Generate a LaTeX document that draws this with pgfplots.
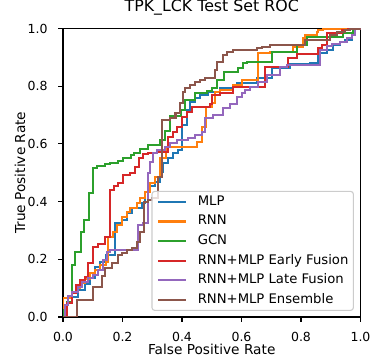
\documentclass[border=0pt]{standalone}
\usepackage{pgfplots}
\pgfplotsset{compat=1.18}
\usepackage{fontspec}
\setmainfont{DejaVu Sans}
\definecolor{c0}{HTML}{1F77B4}
\definecolor{c1}{HTML}{FF7F0E}
\definecolor{c2}{HTML}{2CA02C}
\definecolor{c3}{HTML}{D62728}
\definecolor{c4}{HTML}{9467BD}
\definecolor{c5}{HTML}{8C564B}
\definecolor{legedge}{RGB}{204,204,204}
\begin{document}
\begin{tikzpicture}
\path[use as bounding box] (0,0) rectangle (375bp,364bp);
\begin{axis}[
  at={(63bp,47bp)}, anchor=south west,
  scale only axis, width=297.5bp, height=288.5bp,
  xmin=0, xmax=1, ymin=0, ymax=1,
  axis line style={line width=1.1bp},
  tick pos=left, tick align=outside,
  major tick length=4.9bp,
  every tick/.style={black, line width=1.1bp},
  xtick={0,0.2,0.4,0.6,0.8,1.0},
  ytick={0,0.2,0.4,0.6,0.8,1.0},
  /pgf/number format/assume math mode=true,
  /pgf/number format/.cd, fixed, fixed zerofill, precision=1, /pgfplots/.cd,
  ticklabel style={font=\fontsize{12.5bp}{15bp}\selectfont},
  xticklabel style={anchor=base, yshift=-20bp, inner sep=0pt},
  yticklabel style={anchor=east, xshift=-10.3bp, inner sep=0pt},
  title={TPK\_LCK Test Set ROC},
  title style={at={(axis description cs:0.5,1.0388)}, anchor=base, inner sep=0pt, font=\fontsize{15.8bp}{19bp}\selectfont},
  xlabel={False Positive Rate},
  ylabel={True Positive Rate},
  xlabel style={at={(axis description cs:0.5,-0.1317)}, anchor=base, inner sep=0pt, font=\fontsize{13.7bp}{16bp}\selectfont},
  ylabel style={at={(axis description cs:-0.1277,0.5)}, anchor=base, rotate=0, inner sep=0pt, font=\fontsize{13.7bp}{16bp}\selectfont},
  legend cell align=left,
  legend image code/.code={\draw[#1] (0bp,0bp) -- (28bp,0bp);},
  legend style={
    at={(axis description cs:0.978,0.021)}, anchor=south east,
    draw=legedge, line width=1.1bp, rounded corners=2.8bp,
    fill=white, fill opacity=0.8, text opacity=1,
    font=\fontsize{13.2bp}{15bp}\selectfont,
    inner xsep=5bp, inner ysep=4bp,
    row sep=6.6bp,
    nodes={inner sep=0pt, text height=10bp, text depth=3bp},
    /tikz/every odd column/.append style={column sep=10.7bp},
  },
  every axis plot/.append style={line width=2.1bp, mark=none, line join=miter},
]
% MLP
\addplot[c0] coordinates {(0,0)(0,0.024)(0.012,0.024)(0.012,0.049)(0.030,0.049)(0.030,0.069)(0.050,0.069)(0.050,0.094)(0.074,0.094)(0.074,0.114)(0.091,0.114)(0.091,0.135)(0.108,0.135)(0.108,0.173)(0.124,0.173)(0.124,0.191)(0.145,0.191)(0.145,0.215)(0.175,0.215)(0.175,0.326)(0.197,0.326)(0.197,0.336)(0.214,0.336)(0.214,0.360)(0.231,0.360)(0.231,0.378)(0.265,0.378)(0.265,0.395)(0.276,0.395)(0.276,0.433)(0.292,0.433)(0.292,0.454)(0.309,0.454)(0.309,0.469)(0.326,0.469)(0.326,0.503)(0.337,0.503)(0.337,0.533)(0.354,0.533)(0.354,0.550)(0.371,0.550)(0.371,0.567)(0.388,0.567)(0.388,0.579)(0.400,0.579)(0.400,0.666)(0.417,0.666)(0.417,0.718)(0.427,0.718)(0.427,0.745)(0.444,0.745)(0.444,0.759)(0.461,0.759)(0.461,0.769)(0.487,0.769)(0.487,0.780)(0.528,0.780)(0.528,0.794)(0.571,0.794)(0.571,0.798)(0.585,0.798)(0.585,0.810)(0.652,0.810)(0.652,0.828)(0.703,0.828)(0.703,0.863)(0.763,0.863)(0.763,0.877)(0.830,0.877)(0.830,0.880)(0.857,0.880)(0.857,0.915)(0.887,0.915)(0.887,0.925)(0.908,0.925)(0.908,0.943)(0.931,0.943)(0.931,0.953)(0.948,0.953)(0.948,0.960)(0.971,0.960)(0.971,0.981)(0.982,0.981)(0.982,1)(1,1)};
\addlegendentry{MLP}
% RNN
\addplot[c1] coordinates {(0,0)(0,0.066)(0.030,0.066)(0.030,0.083)(0.044,0.083)(0.044,0.101)(0.057,0.101)(0.057,0.118)(0.074,0.118)(0.074,0.132)(0.091,0.132)(0.091,0.153)(0.108,0.153)(0.108,0.163)(0.124,0.163)(0.124,0.180)(0.145,0.180)(0.145,0.191)(0.152,0.191)(0.152,0.278)(0.169,0.278)(0.169,0.296)(0.181,0.296)(0.181,0.319)(0.197,0.319)(0.197,0.348)(0.214,0.348)(0.214,0.365)(0.225,0.365)(0.225,0.377)(0.248,0.377)(0.248,0.395)(0.259,0.395)(0.259,0.411)(0.276,0.411)(0.276,0.434)(0.292,0.434)(0.292,0.463)(0.309,0.463)(0.309,0.485)(0.326,0.485)(0.326,0.551)(0.346,0.551)(0.346,0.588)(0.450,0.588)(0.450,0.608)(0.466,0.608)(0.466,0.660)(0.481,0.660)(0.481,0.728)(0.500,0.728)(0.500,0.741)(0.511,0.741)(0.511,0.781)(0.528,0.781)(0.528,0.787)(0.571,0.787)(0.571,0.804)(0.601,0.804)(0.601,0.821)(0.656,0.821)(0.656,0.914)(0.696,0.914)(0.696,0.920)(0.773,0.920)(0.773,0.937)(0.807,0.937)(0.807,0.966)(0.813,0.966)(0.813,0.977)(0.853,0.977)(0.853,0.989)(0.858,0.989)(0.858,0.995)(0.875,0.995)(0.875,1)(1,1)};
\addlegendentry{RNN}
% GCN
\addplot[c2] coordinates {(0,0)(0,0.024)(0.013,0.024)(0.013,0.052)(0.029,0.052)(0.029,0.180)(0.040,0.180)(0.040,0.225)(0.059,0.225)(0.059,0.295)(0.072,0.295)(0.072,0.336)(0.088,0.336)(0.088,0.430)(0.100,0.430)(0.100,0.516)(0.113,0.516)(0.113,0.523)(0.141,0.523)(0.141,0.530)(0.158,0.530)(0.158,0.535)(0.186,0.535)(0.186,0.542)(0.203,0.542)(0.203,0.550)(0.228,0.550)(0.228,0.562)(0.239,0.562)(0.239,0.569)(0.259,0.569)(0.259,0.581)(0.287,0.581)(0.287,0.596)(0.326,0.596)(0.326,0.614)(0.343,0.614)(0.343,0.645)(0.360,0.645)(0.360,0.697)(0.397,0.697)(0.397,0.718)(0.410,0.718)(0.410,0.752)(0.444,0.752)(0.444,0.776)(0.484,0.776)(0.484,0.783)(0.501,0.783)(0.501,0.794)(0.518,0.794)(0.518,0.821)(0.541,0.821)(0.541,0.849)(0.588,0.849)(0.588,0.863)(0.605,0.863)(0.605,0.880)(0.618,0.880)(0.618,0.884)(0.703,0.884)(0.703,0.919)(0.787,0.919)(0.787,0.943)(0.820,0.943)(0.820,0.971)(0.941,0.971)(0.941,0.984)(0.975,0.984)(0.975,1)(1,1)};
\addlegendentry{GCN}
% Early fusion
\addplot[c3] coordinates {(0,0)(0.013,0)(0.013,0.049)(0.030,0.049)(0.030,0.083)(0.044,0.083)(0.044,0.111)(0.057,0.111)(0.057,0.128)(0.074,0.128)(0.074,0.139)(0.085,0.139)(0.085,0.187)(0.102,0.187)(0.102,0.243)(0.118,0.243)(0.118,0.253)(0.141,0.253)(0.141,0.277)(0.158,0.277)(0.158,0.440)(0.171,0.440)(0.171,0.454)(0.186,0.454)(0.186,0.464)(0.201,0.464)(0.201,0.492)(0.225,0.492)(0.225,0.500)(0.242,0.500)(0.242,0.521)(0.256,0.521)(0.256,0.550)(0.270,0.550)(0.270,0.565)(0.287,0.565)(0.287,0.569)(0.316,0.569)(0.316,0.573)(0.353,0.573)(0.353,0.624)(0.370,0.624)(0.370,0.641)(0.383,0.641)(0.383,0.659)(0.400,0.659)(0.400,0.693)(0.417,0.693)(0.417,0.711)(0.434,0.711)(0.434,0.728)(0.494,0.728)(0.494,0.738)(0.501,0.738)(0.501,0.769)(0.528,0.769)(0.528,0.777)(0.571,0.777)(0.571,0.797)(0.679,0.797)(0.679,0.867)(0.756,0.867)(0.756,0.898)(0.787,0.898)(0.787,0.912)(0.857,0.912)(0.857,0.932)(0.871,0.932)(0.871,0.943)(0.887,0.943)(0.887,0.984)(0.938,0.984)(0.938,0.995)(0.958,0.995)(0.958,1)(1,1)};
\addlegendentry{RNN+MLP Early Fusion}
% Late fusion
\addplot[c4] coordinates {(0,0)(0.007,0)(0.007,0.042)(0.017,0.042)(0.017,0.073)(0.029,0.073)(0.029,0.088)(0.051,0.088)(0.051,0.105)(0.063,0.105)(0.063,0.122)(0.085,0.122)(0.085,0.135)(0.102,0.135)(0.102,0.146)(0.119,0.146)(0.119,0.163)(0.135,0.163)(0.135,0.198)(0.147,0.198)(0.147,0.226)(0.158,0.226)(0.158,0.232)(0.252,0.232)(0.252,0.319)(0.270,0.319)(0.270,0.326)(0.286,0.326)(0.286,0.499)(0.292,0.499)(0.292,0.537)(0.304,0.537)(0.304,0.568)(0.315,0.568)(0.315,0.579)(0.343,0.579)(0.343,0.590)(0.360,0.590)(0.360,0.602)(0.382,0.602)(0.382,0.614)(0.421,0.614)(0.421,0.620)(0.444,0.620)(0.444,0.631)(0.466,0.631)(0.466,0.642)(0.477,0.642)(0.477,0.690)(0.504,0.690)(0.504,0.700)(0.538,0.700)(0.538,0.724)(0.561,0.724)(0.561,0.738)(0.584,0.738)(0.584,0.764)(0.601,0.764)(0.601,0.775)(0.612,0.775)(0.612,0.787)(0.629,0.787)(0.629,0.798)(0.656,0.798)(0.656,0.816)(0.685,0.816)(0.685,0.839)(0.729,0.839)(0.729,0.867)(0.752,0.867)(0.752,0.873)(0.864,0.873)(0.864,0.925)(0.886,0.925)(0.886,0.938)(0.903,0.938)(0.903,0.946)(0.931,0.946)(0.931,0.954)(0.954,0.954)(0.954,0.966)(0.970,0.966)(0.970,0.976)(0.983,0.976)(0.983,1)(1,1)};
\addlegendentry{RNN+MLP Late Fusion}
% Ensemble
\addplot[c5] coordinates {(0,0)(0.046,0)(0.046,0.059)(0.102,0.059)(0.102,0.104)(0.130,0.104)(0.130,0.142)(0.141,0.142)(0.141,0.169)(0.164,0.169)(0.164,0.186)(0.186,0.186)(0.186,0.215)(0.197,0.215)(0.197,0.222)(0.214,0.222)(0.214,0.232)(0.231,0.232)(0.231,0.239)(0.249,0.239)(0.249,0.261)(0.259,0.261)(0.259,0.295)(0.271,0.295)(0.271,0.399)(0.287,0.399)(0.287,0.406)(0.298,0.406)(0.298,0.411)(0.319,0.411)(0.319,0.485)(0.333,0.485)(0.333,0.683)(0.360,0.683)(0.360,0.689)(0.378,0.689)(0.378,0.707)(0.393,0.707)(0.393,0.741)(0.404,0.741)(0.404,0.780)(0.410,0.780)(0.410,0.793)(0.427,0.793)(0.427,0.804)(0.444,0.804)(0.444,0.815)(0.461,0.815)(0.461,0.821)(0.477,0.821)(0.477,0.827)(0.511,0.827)(0.511,0.856)(0.517,0.856)(0.517,0.884)(0.538,0.884)(0.538,0.908)(0.550,0.908)(0.550,0.920)(0.572,0.920)(0.572,0.925)(0.651,0.925)(0.651,0.932)(0.669,0.932)(0.669,0.937)(0.696,0.937)(0.696,0.943)(0.813,0.943)(0.813,0.960)(0.897,0.960)(0.897,0.977)(0.920,0.977)(0.920,0.989)(0.948,0.989)(0.948,0.995)(0.965,0.995)(0.965,1)(1,1)};
\addlegendentry{RNN+MLP Ensemble}
\end{axis}
\end{tikzpicture}
\end{document}
